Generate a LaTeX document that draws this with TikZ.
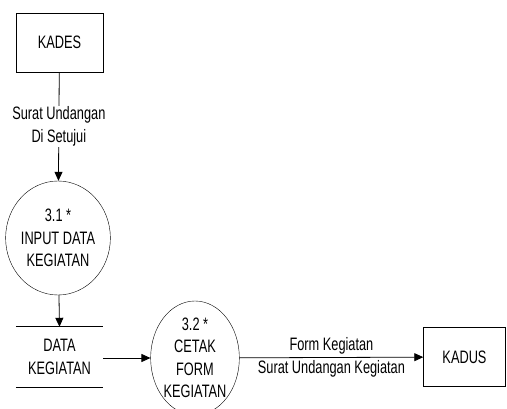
\documentclass[tikz,border=0pt]{standalone}
\usepackage{fontspec}
\setmainfont{Liberation Sans}[FakeStretch=0.71]
\usetikzlibrary{arrows.meta,shapes.geometric}
\begin{document}
\begin{tikzpicture}[x=1pt,y=-1pt,
  every node/.style={font=\fontsize{18}{22.5}\selectfont, inner sep=0pt},
  entity/.style={draw, minimum width=87pt, minimum height=59pt},
  proc/.style={draw, ellipse, minimum width=84pt, minimum height=114pt, align=center},
  flow/.style={draw, line width=0.8pt, -{Triangle[length=9pt,width=8pt]}},
  lbl/.style={align=center, fill=white, inner sep=1pt}]
\useasboundingbox (0,0) rectangle (507,409);
\node[entity] (kades) at (59.5,42.5) {KADES};
\node[proc] (p31) at (58,238) {3.1 *\\INPUT DATA\\KEGIATAN};
\node[proc] (p32) at (195,358) {3.2 *\\CETAK\\FORM\\KEGIATAN};
\node[entity, minimum width=82pt] (kadus) at (464.5,357) {KADUS};
\node[minimum width=87pt, minimum height=60pt, align=center] (store) at (59.5,357) {DATA\\KEGIATAN};
\draw[line width=0.8pt] (store.north west) -- (store.north east);
\draw[line width=0.8pt] (store.south west) -- (store.south east);
\draw[flow] (kades) -- node[lbl] {Surat Undangan\\Di Setujui} (p31);
\draw[flow] (p31) -- (store.north);
\draw[flow] (store.east |- p32) -- (p32);
\draw[flow] (p32) -- node[above=3pt] {Form Kegiatan} node[below=3pt] {Surat Undangan Kegiatan} (kadus);
\end{tikzpicture}
\end{document}
